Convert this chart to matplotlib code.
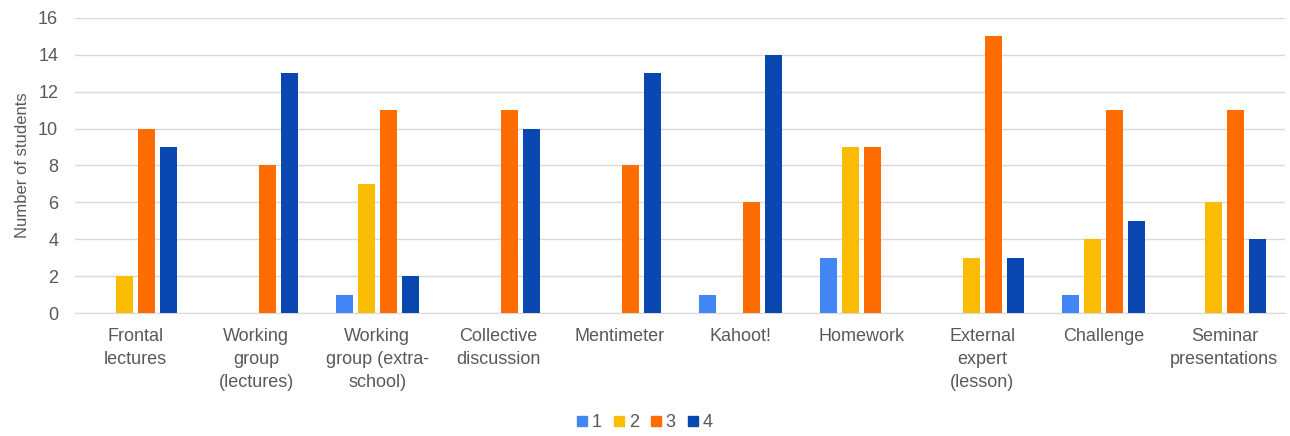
import numpy as np
import matplotlib.pyplot as plt
from matplotlib.patches import Patch

plt.rcParams['font.family'] = ['Liberation Sans', 'DejaVu Sans']

# Activities and how many students gave each rating
categories = ['Frontal\nlectures', 'Working\ngroup\n(lectures)', 'Working\ngroup (extra-\nschool)',
              'Collective\ndiscussion', 'Mentimeter', 'Kahoot!', 'Homework',
              'External\nexpert\n(lesson)', 'Challenge', 'Seminar\npresentations']
rating_1 = [0, 0, 1, 0, 0, 1, 3, 0, 1, 0]
rating_2 = [2, 0, 7, 0, 0, 0, 9, 3, 4, 6]
rating_3 = [10, 8, 11, 11, 8, 6, 9, 15, 11, 11]
rating_4 = [9, 13, 2, 10, 13, 14, 0, 3, 5, 4]
series_labels = ['1', '2', '3', '4']
colors = ['#4285F4', '#FBBC04', '#FF6D01', '#0B47B0']

series = [rating_1, rating_2, rating_3, rating_4]
x = np.arange(len(categories))
pitch = 0.182
width = 0.14

fig = plt.figure(figsize=(12.9, 4.36), dpi=100)
ax = fig.add_axes([0.058, 0.282, 0.938, 0.677])

for i, vals in enumerate(series):
    ax.bar(x + (i - 1.5) * pitch, vals, width, color=colors[i], zorder=3)

ax.set_xlim(-0.5, len(categories) - 0.5)
ax.set_ylim(0, 16)
ax.set_yticks(range(0, 17, 2))
ax.set_xticks(x)
ax.set_xticklabels(categories, fontsize=13, color='#595959', linespacing=1.45)
ax.tick_params(axis='y', labelsize=13, labelcolor='#595959', length=0, pad=12)
ax.tick_params(axis='x', length=0, pad=11)
ax.grid(axis='y', color='#D9D9D9', linewidth=1, zorder=0)
for s in ['top', 'right', 'left']:
    ax.spines[s].set_visible(False)
ax.spines['bottom'].set_color('#D9D9D9')
ax.set_ylabel('Number of students', fontsize=12, color='#595959', labelpad=6)

handles = [Patch(color=c, label=l) for c, l in zip(colors, series_labels)]
fig.legend(handles=handles, loc='center', bbox_to_anchor=(0.5, 0.03), ncol=4,
           frameon=False, fontsize=13, labelcolor='#595959',
           handlelength=0.55, handleheight=0.55, handletextpad=0.25, columnspacing=0.7)

plt.savefig('out.png', dpi=100)
